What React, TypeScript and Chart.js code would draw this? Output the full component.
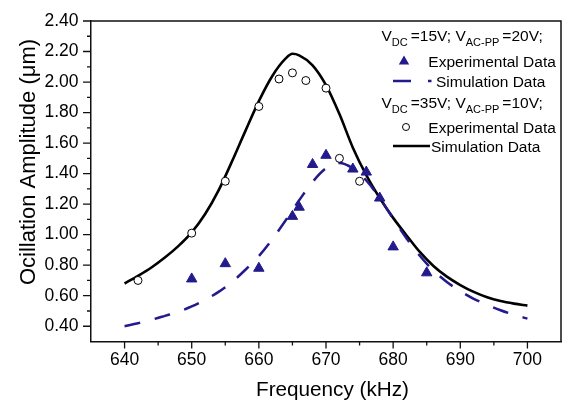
import React, { useEffect, useRef } from 'react';
import { Chart, registerables } from 'chart.js';

Chart.register(...registerables);

const FONT = '"Liberation Sans", Arial, Helvetica, sans-serif';
const NAVY = '#231a8c';

// Axis ticks
const xMajorTicks = [640, 650, 660, 670, 680, 690, 700];
const xMinorTicks = [645, 655, 665, 675, 685, 695];
const yMajorTicks = [0.4, 0.6, 0.8, 1.0, 1.2, 1.4, 1.6, 1.8, 2.0, 2.2, 2.4];
const yMinorTicks = [0.5, 0.7, 0.9, 1.1, 1.3, 1.5, 1.7, 1.9, 2.1, 2.3];

// V_DC = 15 V; V_AC-PP = 20 V
const exp15Freq = [650, 655, 660, 665, 666, 668, 670, 674, 676, 678, 680, 685];
const exp15Amp = [0.71, 0.81, 0.78, 1.12, 1.18, 1.46, 1.52, 1.43, 1.41, 1.24, 0.92, 0.75];
const sim15Freq = [640, 642, 644, 646, 648, 650, 652, 654, 656, 658, 660, 662, 664, 666, 668, 670, 672, 674, 676, 678, 680, 682, 684, 686, 688, 690, 692, 694, 696, 698, 700];
const sim15Amp = [0.40, 0.42, 0.442, 0.468, 0.495, 0.53, 0.573, 0.625, 0.69, 0.77, 0.86, 0.97, 1.095, 1.225, 1.345, 1.435, 1.47, 1.435, 1.355, 1.24, 1.105, 0.975, 0.86, 0.765, 0.69, 0.63, 0.58, 0.54, 0.505, 0.475, 0.45];

// V_DC = 35 V; V_AC-PP = 10 V
const exp35Freq = [642, 650, 655, 660, 663, 665, 667, 670, 672, 675];
const exp35Amp = [0.70, 1.01, 1.35, 1.84, 2.02, 2.06, 2.01, 1.96, 1.50, 1.35];
const sim35Freq = [640, 642, 644, 646, 648, 650, 652, 654, 656, 658, 660, 662, 664, 665, 666, 668, 670, 672, 674, 676, 678, 680, 682, 684, 686, 688, 690, 692, 694, 696, 698, 700];
const sim35Amp = [0.68, 0.73, 0.785, 0.85, 0.925, 1.015, 1.135, 1.29, 1.48, 1.68, 1.875, 2.04, 2.155, 2.185, 2.175, 2.11, 1.98, 1.79, 1.57, 1.39, 1.24, 1.11, 0.995, 0.885, 0.795, 0.725, 0.67, 0.625, 0.59, 0.565, 0.548, 0.535];

const xTitle = 'Frequency (kHz)';
const yTitle = 'Ocillation Amplitude (\u03bcm)';
const legendHead15: [string, boolean][] = [['V', false], ['DC', true], ['=15V; ', false], ['V', false], ['AC-PP', true], ['=20V;', false]];
const legendHead35: [string, boolean][] = [['V', false], ['DC', true], ['=35V; ', false], ['V', false], ['AC-PP', true], ['=10V;', false]];
const legendExp = 'Experimental Data';
const legendSim = 'Simulation Data';

const pairs = (xs: number[], ys: number[]) => xs.map((x, i) => ({ x, y: ys[i] }));
const key = (v: number) => Math.round(v * 100);
const xMajorSet = new Set(xMajorTicks.map(key));
const yMajorSet = new Set(yMajorTicks.map(key));

function drawRich(ctx: CanvasRenderingContext2D, x: number, base: number, parts: [string, boolean][]) {
  let cx = x;
  for (const [t, sub] of parts) {
    if (sub) {
      ctx.font = `11px ${FONT}`;
      ctx.fillText(t, cx, base + 5.5);
      cx += ctx.measureText(t).width + 3;
    } else {
      ctx.font = `15.5px ${FONT}`;
      ctx.fillText(t, cx, base);
      cx += ctx.measureText(t).width;
    }
  }
}

const decorPlugin = {
  id: 'decor',
  afterDatasetsDraw(chart: any) {
    const ctx: CanvasRenderingContext2D = chart.ctx;
    const { left, right, top, bottom } = chart.chartArea;
    const xs = chart.scales.x;
    const ys = chart.scales.y;
    ctx.save();
    // frame
    ctx.strokeStyle = '#111';
    ctx.lineWidth = 1.5;
    ctx.beginPath();
    ctx.moveTo(left, top);
    ctx.lineTo(right, top);
    ctx.lineTo(right, bottom);
    ctx.stroke();
    // tick marks
    ctx.lineWidth = 1.3;
    ctx.beginPath();
    for (const t of xs.ticks) {
      const px = xs.getPixelForValue(t.value);
      const len = xMajorSet.has(key(t.value)) ? 7 : 4;
      ctx.moveTo(px, bottom);
      ctx.lineTo(px, bottom + len);
    }
    for (const t of ys.ticks) {
      const py = ys.getPixelForValue(t.value);
      const len = yMajorSet.has(key(t.value)) ? 8 : 4;
      ctx.moveTo(left, py);
      ctx.lineTo(left - len, py);
    }
    ctx.stroke();

    // axis titles
    ctx.fillStyle = '#000';
    ctx.textAlign = 'center';
    ctx.textBaseline = 'alphabetic';
    ctx.font = `20.7px ${FONT}`;
    ctx.fillText(xTitle, 332.5, 396);
    ctx.save();
    ctx.translate(35, 162);
    ctx.rotate(-Math.PI / 2);
    ctx.font = `22px ${FONT}`;
    ctx.fillText(yTitle, 0, 0);
    ctx.restore();

    // legend
    ctx.textAlign = 'left';
    drawRich(ctx, 381.5, 40.5, legendHead15);
    ctx.font = `15.5px ${FONT}`;
    // triangle
    ctx.fillStyle = NAVY;
    ctx.beginPath();
    const r = 6;
    for (let k = 0; k < 3; k++) {
      const a = (k * 2 * Math.PI) / 3;
      const px = 404 + Math.sin(a) * r;
      const py = 61.5 - Math.cos(a) * r;
      if (k === 0) ctx.moveTo(px, py); else ctx.lineTo(px, py);
    }
    ctx.closePath();
    ctx.fill();
    ctx.fillStyle = '#000';
    ctx.fillText(legendExp, 428.3, 66.5);
    // dashed sample
    ctx.strokeStyle = NAVY;
    ctx.lineWidth = 2.5;
    ctx.setLineDash([18, 17]);
    ctx.beginPath();
    ctx.moveTo(393, 81);
    ctx.lineTo(431.5, 81);
    ctx.stroke();
    ctx.setLineDash([]);
    ctx.fillText(legendSim, 436, 86.5);

    drawRich(ctx, 381.5, 107.5, legendHead35);
    ctx.font = `15.5px ${FONT}`;
    ctx.strokeStyle = '#000';
    ctx.lineWidth = 1;
    ctx.beginPath();
    ctx.arc(406, 127, 3.5, 0, Math.PI * 2);
    ctx.fillStyle = '#fff';
    ctx.fill();
    ctx.stroke();
    ctx.fillStyle = '#000';
    ctx.fillText(legendExp, 428.3, 132.5);
    ctx.lineWidth = 2.5;
    ctx.beginPath();
    ctx.moveTo(393, 146);
    ctx.lineTo(430, 146);
    ctx.stroke();
    ctx.fillText(legendSim, 431, 152);
    ctx.restore();
  },
};

export default function App() {
  const ref = useRef<HTMLCanvasElement | null>(null);
  useEffect(() => {
    if (!ref.current) return;
    const chart = new Chart(ref.current, {
      type: 'scatter',
      data: {
        datasets: [
          {
            label: 'Exp 15V',
            data: pairs(exp15Freq, exp15Amp),
            pointStyle: 'triangle',
            pointRadius: 6,
            backgroundColor: NAVY,
            borderColor: NAVY,
            borderWidth: 1,
            showLine: false,
            order: 0,
          },
          {
            label: 'Exp 35V',
            data: pairs(exp35Freq, exp35Amp),
            pointStyle: 'circle',
            pointRadius: 4,
            backgroundColor: '#fff',
            borderColor: '#000',
            borderWidth: 1,
            showLine: false,
            order: 1,
          },
          {
            label: 'Sim 15V',
            data: pairs(sim15Freq, sim15Amp),
            showLine: true,
            pointRadius: 0,
            borderColor: NAVY,
            borderWidth: 2.5,
            borderDash: [16, 15],
            cubicInterpolationMode: 'monotone',
            fill: false,
            order: 2,
          },
          {
            label: 'Sim 35V',
            data: pairs(sim35Freq, sim35Amp),
            showLine: true,
            pointRadius: 0,
            borderColor: '#000',
            borderWidth: 2.6,
            cubicInterpolationMode: 'monotone',
            fill: false,
            order: 3,
          },
        ],
      },
      options: {
        responsive: false,
        animation: false,
        devicePixelRatio: 1,
        layout: { padding: { top: 21, right: 1.5, left: 0, bottom: 0 } },
        plugins: { legend: { display: false }, tooltip: { enabled: false } },
        scales: {
          x: {
            type: 'linear',
            min: 635,
            max: 705,
            grid: { drawOnChartArea: false, drawTicks: true, tickLength: 7, color: 'rgba(0,0,0,0)', tickColor: 'rgba(0,0,0,0)' },
            border: { display: true, color: '#111', width: 1.5 },
            ticks: {
              autoSkip: false,
              maxRotation: 0,
              padding: 1,
              color: '#000',
              font: { family: FONT, size: 17.5 },
              callback: (v: any) => (xMajorSet.has(key(Number(v))) ? String(v) : ''),
            },
            afterBuildTicks: (s: any) => {
              s.ticks = [...xMajorTicks, ...xMinorTicks].sort((a, b) => a - b).map((value) => ({ value }));
            },
            afterFit: (s: any) => {
              s.height = 59.5;
            },
          },
          y: {
            type: 'linear',
            min: 0.3,
            max: 2.4,
            grid: { drawOnChartArea: false, drawTicks: true, tickLength: 8, color: 'rgba(0,0,0,0)', tickColor: 'rgba(0,0,0,0)' },
            border: { display: true, color: '#111', width: 1.5 },
            ticks: {
              autoSkip: false,
              padding: 4.5,
              color: '#000',
              font: { family: FONT, size: 17.5 },
              callback: (v: any) => (yMajorSet.has(key(Number(v))) ? Number(v).toFixed(2) : ''),
            },
            afterBuildTicks: (s: any) => {
              s.ticks = [...yMajorTicks, ...yMinorTicks].sort((a, b) => a - b).map((value) => ({ value }));
            },
            afterFit: (s: any) => {
              s.width = 91;
            },
          },
        },
      },
      plugins: [decorPlugin],
    } as any);
    return () => chart.destroy();
  }, []);
  return (
    <div style={{ position: 'absolute', left: 0, top: 0, width: 568, height: 401, background: '#fff' }}>
      <canvas ref={ref} width={568} height={401} style={{ display: 'block' }} />
    </div>
  );
}
